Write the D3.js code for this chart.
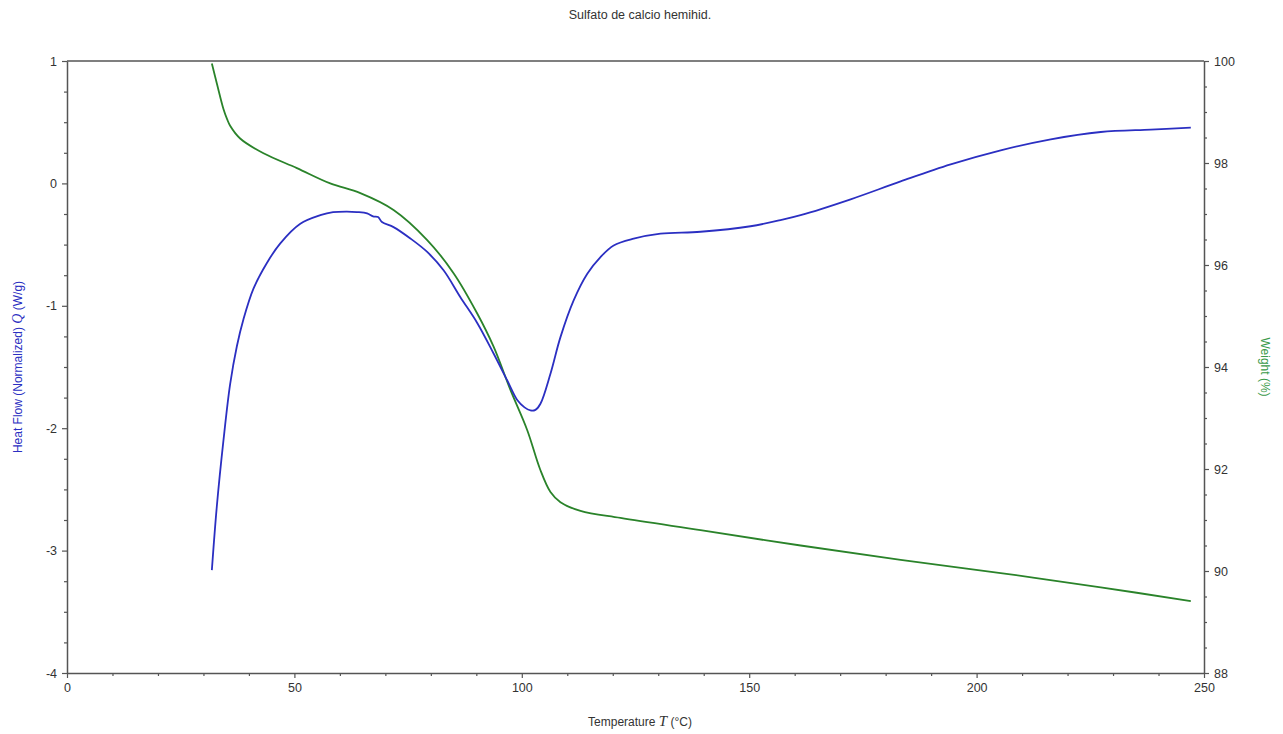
<!DOCTYPE html>
<html>
<head>
<meta charset="utf-8">
<script src="https://cdn.jsdelivr.net/npm/d3@7"></script>
<style>
  html, body { margin: 0; padding: 0; background: #fff; }
  svg { display: block; }
  text { font-family: Arial, "Liberation Sans", sans-serif; }
</style>
</head>
<body>
<svg id="chart" width="1283" height="734"></svg>
<script>
// Heat flow (W/g) vs temperature (°C)
const heatT = [31.85, 32.94, 34.4, 35.87, 37.35, 38.8, 41.0, 43.95, 46.9, 51.3, 55.7, 58.5, 61.55, 63.75, 66.0, 67.3, 68.4, 69.25, 71.8, 75.5, 79.2, 82.8, 86.5, 90.2, 93.8, 96.8, 99.0, 100.6, 101.9, 103.0, 104.1, 106.3, 108.5, 111.4, 114.4, 117.3, 120.2, 124.6, 130.5, 139.3, 150.3, 156.9, 161.3, 172.3, 183.3, 194.3, 205.3, 216.3, 227.3, 238.3, 247.1];
const heatQ = [-3.16, -2.64, -2.10, -1.64, -1.33, -1.11, -0.86, -0.65, -0.49, -0.33, -0.26, -0.235, -0.23, -0.234, -0.245, -0.27, -0.275, -0.316, -0.357, -0.45, -0.56, -0.71, -0.93, -1.14, -1.39, -1.61, -1.77, -1.83, -1.855, -1.85, -1.80, -1.555, -1.256, -0.956, -0.738, -0.602, -0.507, -0.452, -0.411, -0.395, -0.35, -0.30, -0.26, -0.13, 0.016, 0.155, 0.27, 0.36, 0.42, 0.44, 0.455];

// Sample weight (%) vs temperature (°C)
const weightT = [31.85, 32.95, 34.4, 35.2, 35.87, 38.07, 43.2, 50.55, 57.88, 64.5, 71.8, 79.2, 85.0, 90.2, 93.8, 97.5, 101.2, 104.0, 106.3, 108.5, 112.9, 121.7, 139.3, 161.3, 183.3, 205.3, 227.3, 247.1];
const weightW = [99.95, 99.56, 99.06, 98.86, 98.73, 98.48, 98.19, 97.90, 97.60, 97.41, 97.08, 96.49, 95.84, 95.05, 94.40, 93.55, 92.76, 92.0, 91.55, 91.35, 91.18, 91.04, 90.8, 90.5, 90.22, 89.96, 89.68, 89.41];

// Axis ticks
const xTicks = [0, 50, 100, 150, 200, 250];
const leftTicks = [1, 0, -1, -2, -3, -4];
const rightTicks = [100, 98, 96, 94, 92, 90, 88];

const titleText = "Sulfato de calcio hemihid.";

const svg = d3.select("#chart");
const plotL = 67, plotR = 1204, plotT = 61, plotB = 673;

const x = d3.scaleLinear().domain([0, 250]).range([plotL, plotR]);
const yL = d3.scaleLinear().domain([-4, 1]).range([plotB, plotT]);
const yR = d3.scaleLinear().domain([88, 100]).range([plotB, plotT]);

const axisColor = "#555";
const textColor = "#333";
const blue = "#2b2fc2";
const green = "#2a832a";
const fmt = v => String(v); // plain hyphen for negatives

// Title
svg.append("text")
  .attr("x", 640).attr("y", 19)
  .attr("text-anchor", "middle")
  .attr("font-size", 12.5)
  .attr("fill", textColor)
  .text(titleText);

// Frame line along the top edge
svg.append("line")
  .attr("x1", plotL).attr("x2", plotR).attr("y1", plotT).attr("y2", plotT)
  .attr("stroke", axisColor).attr("stroke-width", 1.5);

function styleAxis(g) {
  g.select(".domain").attr("stroke", axisColor).attr("stroke-width", 1.5);
  g.selectAll(".tick line").attr("stroke", axisColor).attr("stroke-width", 1.2);
  g.selectAll(".tick text").attr("fill", textColor).attr("font-size", 12.5)
    .attr("font-family", "Arial, 'Liberation Sans', sans-serif");
}

// Minor ticks
const xMinor = d3.range(0, 251, 10).filter(v => !xTicks.includes(v));
const lMinor = d3.range(-4, 1.001, 0.25).filter(v => !leftTicks.some(t => Math.abs(t - v) < 1e-6));
const rMinor = d3.range(88, 100.001, 0.5).filter(v => !rightTicks.some(t => Math.abs(t - v) < 1e-6));

svg.append("g").attr("transform", `translate(0,${plotB})`)
  .call(d3.axisBottom(x).tickValues(xMinor).tickSize(3).tickFormat(""))
  .call(g => { styleAxis(g); g.select(".domain").remove(); });
svg.append("g").attr("transform", `translate(${plotL},0)`)
  .call(d3.axisLeft(yL).tickValues(lMinor).tickSize(3).tickFormat(""))
  .call(g => { styleAxis(g); g.select(".domain").remove(); });
svg.append("g").attr("transform", `translate(${plotR},0)`)
  .call(d3.axisRight(yR).tickValues(rMinor).tickSize(3).tickFormat(""))
  .call(g => { styleAxis(g); g.select(".domain").remove(); });

// Major axes
svg.append("g").attr("transform", `translate(0,${plotB})`)
  .call(d3.axisBottom(x).tickValues(xTicks).tickSize(5).tickSizeOuter(0).tickPadding(5).tickFormat(fmt))
  .call(styleAxis);
svg.append("g").attr("transform", `translate(${plotL},0)`)
  .call(d3.axisLeft(yL).tickValues(leftTicks).tickSize(5).tickSizeOuter(0).tickPadding(5).tickFormat(fmt))
  .call(styleAxis);
svg.append("g").attr("transform", `translate(${plotR},0)`)
  .call(d3.axisRight(yR).tickValues(rightTicks).tickSize(5).tickSizeOuter(0).tickPadding(5).tickFormat(fmt))
  .call(styleAxis);

// Curves
const heatData = heatT.map((t, i) => [t, heatQ[i]]);
const weightData = weightT.map((t, i) => [t, weightW[i]]);
const smooth = d3.curveCatmullRom.alpha(0.5);

svg.append("path")
  .datum(weightData)
  .attr("fill", "none").attr("stroke", green).attr("stroke-width", 1.8)
  .attr("d", d3.line().x(d => x(d[0])).y(d => yR(d[1])).curve(smooth));

svg.append("path")
  .datum(heatData)
  .attr("fill", "none").attr("stroke", blue).attr("stroke-width", 1.8)
  .attr("d", d3.line().x(d => x(d[0])).y(d => yL(d[1])).curve(smooth));

// X axis title
const xl = svg.append("text")
  .attr("x", 640).attr("y", 726)
  .attr("text-anchor", "middle")
  .attr("font-size", 12)
  .attr("fill", textColor);
xl.append("tspan").text("Temperature ");
xl.append("tspan").attr("font-family", "'Liberation Serif', 'DejaVu Serif', serif")
  .attr("font-style", "italic").attr("font-size", 15).text("T");
xl.append("tspan").text(" (°C)");

// Left Y axis title
const yl = svg.append("text")
  .attr("transform", `translate(22,${(plotT + plotB) / 2}) rotate(-90)`)
  .attr("text-anchor", "middle")
  .attr("font-size", 12)
  .attr("fill", blue);
yl.append("tspan").text("Heat Flow (Normalized)  ");
yl.append("tspan").attr("font-family", "'Liberation Serif', 'DejaVu Serif', serif")
  .attr("font-style", "italic").attr("font-size", 14).text("Q");
yl.append("tspan").text("  (W/g)");

// Right Y axis title
svg.append("text")
  .attr("transform", `translate(1261,${(plotT + plotB) / 2}) rotate(90)`)
  .attr("text-anchor", "middle")
  .attr("font-size", 12)
  .attr("fill", "#3a9a4a")
  .text("Weight (%)");
</script>
</body>
</html>
